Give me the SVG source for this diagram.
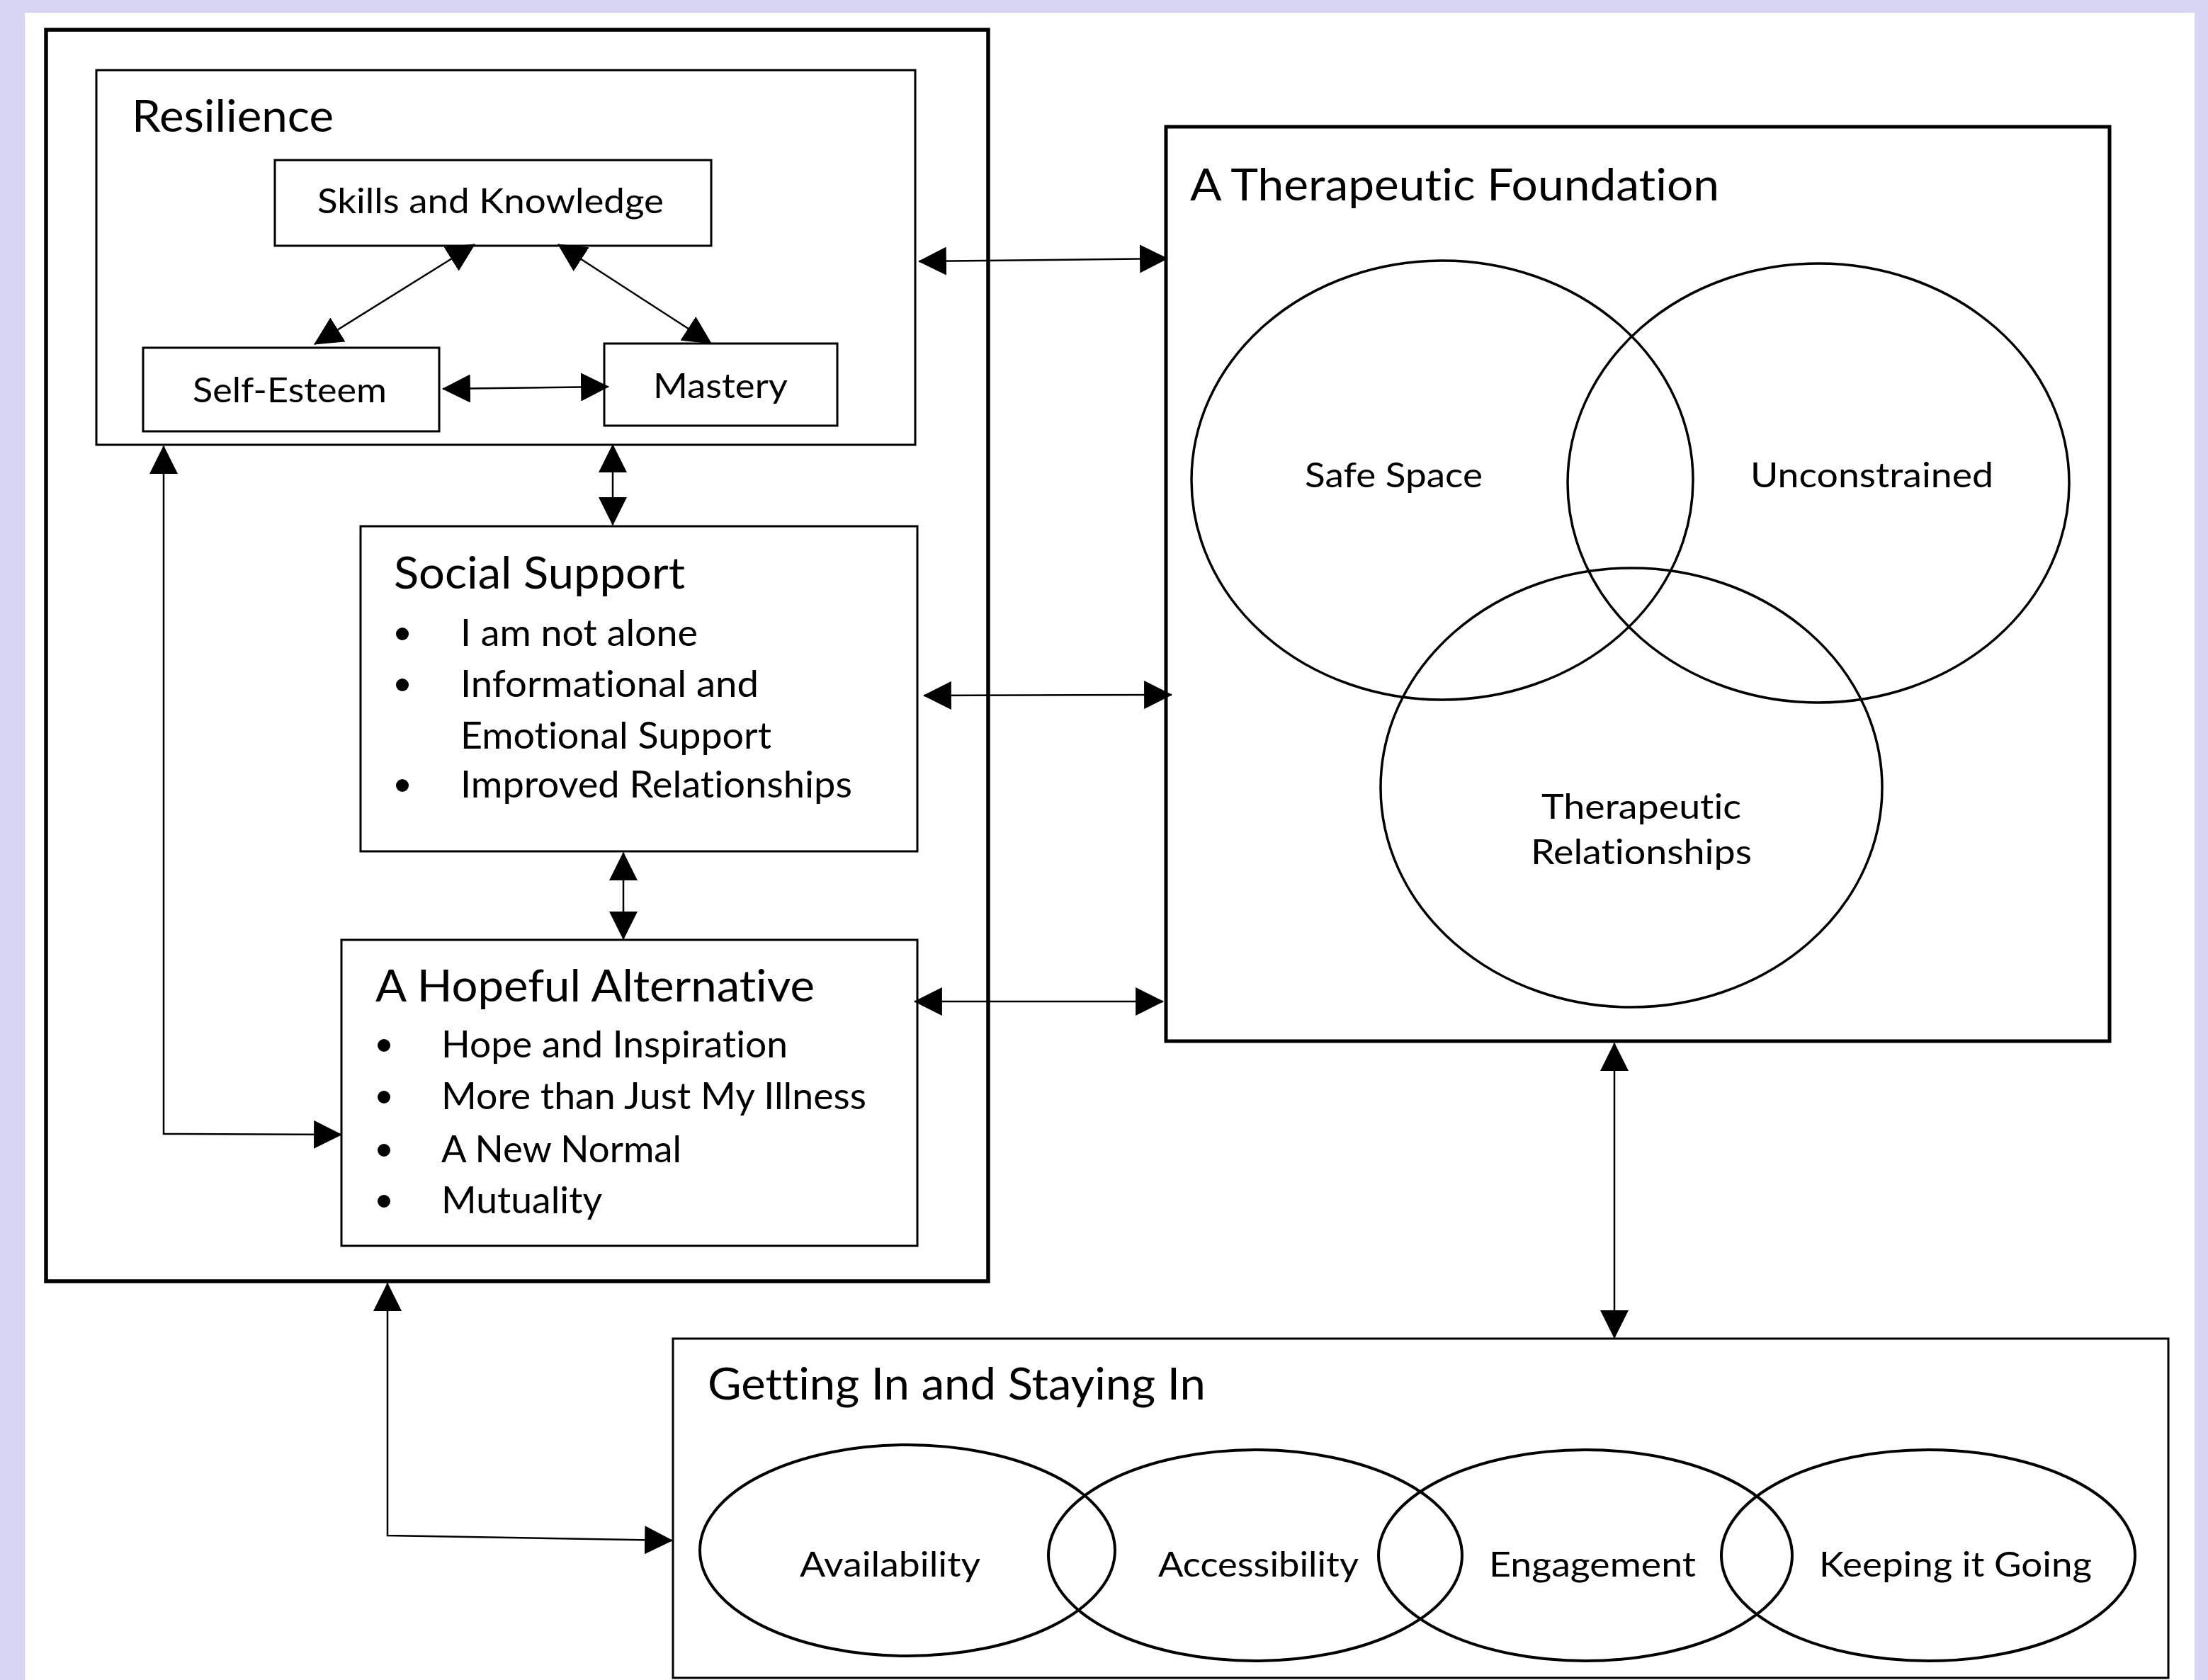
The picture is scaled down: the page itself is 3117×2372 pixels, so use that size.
<svg xmlns="http://www.w3.org/2000/svg" width="3117" height="2372" viewBox="0 0 3117 2372">
<style>
  text { font-family: Lato, "Open Sans", "Liberation Sans", sans-serif; fill: #000; font-variant-ligatures: none; font-feature-settings: "liga" 0, "clig" 0; }
  .title { font-size: 62px; }
  .item { font-size: 53px; }
  .label { font-size: 48px; }
  .box { fill: #fff; stroke: #000; stroke-width: 3; }
  .outer { fill: #fff; stroke: #000; stroke-width: 5.5; }
  .circ { fill: none; stroke: #000; stroke-width: 3.5; }
  .oval { fill: none; stroke: #000; stroke-width: 4; }
  .conn { fill: none; stroke: #000; stroke-width: 2.5; marker-start: url(#ah); marker-end: url(#ah); }
  .dot { fill: #000; }
</style>
<defs>
  <marker id="ah" markerUnits="userSpaceOnUse" markerWidth="40" markerHeight="40" viewBox="0 0 36 36" refX="35" refY="18" orient="auto-start-reverse">
    <path d="M0,0 L36,18 L0,36 Z" fill="#000"/>
  </marker>
</defs>

<rect x="0" y="0" width="3117" height="2372" fill="#D6D6F4"/>
<rect x="35" y="18" width="3063" height="2354" fill="#fff"/>

<g id="outer-left">
  <rect class="outer" x="65" y="42" width="1330" height="1767"/>
</g>

<g id="resilience">
  <rect class="box" x="136" y="99" width="1156" height="529"/>
  <text class="title" x="186" y="186" textLength="285" lengthAdjust="spacingAndGlyphs">Resilience</text>
</g>
<g id="skills">
  <rect class="box" x="388" y="226" width="616" height="121"/>
  <text class="label" x="448" y="301" textLength="489" lengthAdjust="spacingAndGlyphs">Skills and Knowledge</text>
</g>
<g id="self-esteem">
  <rect class="box" x="202" y="491" width="418" height="118"/>
  <text class="label" x="272" y="568" textLength="274" lengthAdjust="spacingAndGlyphs">Self-Esteem</text>
</g>
<g id="mastery">
  <rect class="box" x="853" y="485" width="329" height="116"/>
  <text class="label" x="922" y="562" textLength="190" lengthAdjust="spacingAndGlyphs">Mastery</text>
</g>

<g id="social-support">
  <rect class="box" x="509" y="743" width="786" height="459"/>
  <text class="title" x="556" y="831" textLength="411" lengthAdjust="spacingAndGlyphs">Social Support</text>
  <circle class="dot" cx="568" cy="895" r="9"/>
  <text class="item" x="650" y="912" textLength="335" lengthAdjust="spacingAndGlyphs">I am not alone</text>
  <circle class="dot" cx="568" cy="967" r="9"/>
  <text class="item" x="650" y="984" textLength="421" lengthAdjust="spacingAndGlyphs">Informational and</text>
  <text class="item" x="650" y="1057" textLength="439" lengthAdjust="spacingAndGlyphs">Emotional Support</text>
  <circle class="dot" cx="568" cy="1109" r="9"/>
  <text class="item" x="650" y="1126" textLength="553" lengthAdjust="spacingAndGlyphs">Improved Relationships</text>
</g>

<g id="hopeful-alternative">
  <rect class="box" x="482" y="1327" width="813" height="432"/>
  <text class="title" x="530" y="1414" textLength="620" lengthAdjust="spacingAndGlyphs">A Hopeful Alternative</text>
  <circle class="dot" cx="542" cy="1476" r="9"/>
  <text class="item" x="623" y="1493" textLength="489" lengthAdjust="spacingAndGlyphs">Hope and Inspiration</text>
  <circle class="dot" cx="542" cy="1549" r="9"/>
  <text class="item" x="623" y="1566" textLength="600" lengthAdjust="spacingAndGlyphs">More than Just My Illness</text>
  <circle class="dot" cx="542" cy="1624" r="9"/>
  <text class="item" x="623" y="1641" textLength="339" lengthAdjust="spacingAndGlyphs">A New Normal</text>
  <circle class="dot" cx="542" cy="1696" r="9"/>
  <text class="item" x="623" y="1713" textLength="227" lengthAdjust="spacingAndGlyphs">Mutuality</text>
</g>

<g id="therapeutic-foundation">
  <rect class="outer" x="1646" y="179" width="1332" height="1291" style="stroke-width:5"/>
  <text class="title" x="1680" y="283" textLength="747" lengthAdjust="spacingAndGlyphs">A Therapeutic Foundation</text>
  <ellipse class="circ" cx="2036" cy="678" rx="354" ry="310"/>
  <ellipse class="circ" cx="2567" cy="682" rx="354" ry="310"/>
  <ellipse class="circ" cx="2303" cy="1112" rx="354" ry="310"/>
  <text class="label" x="1842" y="688" textLength="251" lengthAdjust="spacingAndGlyphs">Safe Space</text>
  <text class="label" x="2471" y="688" textLength="343" lengthAdjust="spacingAndGlyphs">Unconstrained</text>
  <text class="label" x="2176" y="1156" textLength="282" lengthAdjust="spacingAndGlyphs">Therapeutic</text>
  <text class="label" x="2161" y="1220" textLength="312" lengthAdjust="spacingAndGlyphs">Relationships</text>
</g>

<g id="getting-in">
  <rect class="box" x="950" y="1890" width="2111" height="479"/>
  <text class="title" x="999" y="1976" textLength="703" lengthAdjust="spacingAndGlyphs">Getting In and Staying In</text>
  <ellipse class="oval" cx="1281" cy="2189" rx="293" ry="149"/>
  <ellipse class="oval" cx="1772" cy="2196" rx="292" ry="149"/>
  <ellipse class="oval" cx="2238" cy="2196" rx="292" ry="149"/>
  <ellipse class="oval" cx="2722" cy="2196" rx="292" ry="149"/>
  <text class="label" x="1129" y="2226" textLength="255" lengthAdjust="spacingAndGlyphs">Availability</text>
  <text class="label" x="1635" y="2226" textLength="283" lengthAdjust="spacingAndGlyphs">Accessibility</text>
  <text class="label" x="2102" y="2226" textLength="292" lengthAdjust="spacingAndGlyphs">Engagement</text>
  <text class="label" x="2568" y="2226" textLength="385" lengthAdjust="spacingAndGlyphs">Keeping it Going</text>
</g>

<g id="connectors">
  <path class="conn" d="M670,345 L444,486"/>
  <path class="conn" d="M788,345 L1004,485"/>
  <path class="conn" d="M625,549 L859,546"/>
  <path class="conn" d="M1297,369 L1648,365"/>
  <path class="conn" d="M865,628 L865,741"/>
  <path class="conn" d="M880,1204 L880,1326"/>
  <path class="conn" d="M1304,982 L1654,981"/>
  <path class="conn" d="M1291,1414 L1642,1414"/>
  <path class="conn" d="M231,630 L231,1601 L482,1602"/>
  <path class="conn" d="M547,1812 L547,2168 L949,2175"/>
  <path class="conn" d="M2279,1473 L2279,1889"/>
</g>
</svg>
